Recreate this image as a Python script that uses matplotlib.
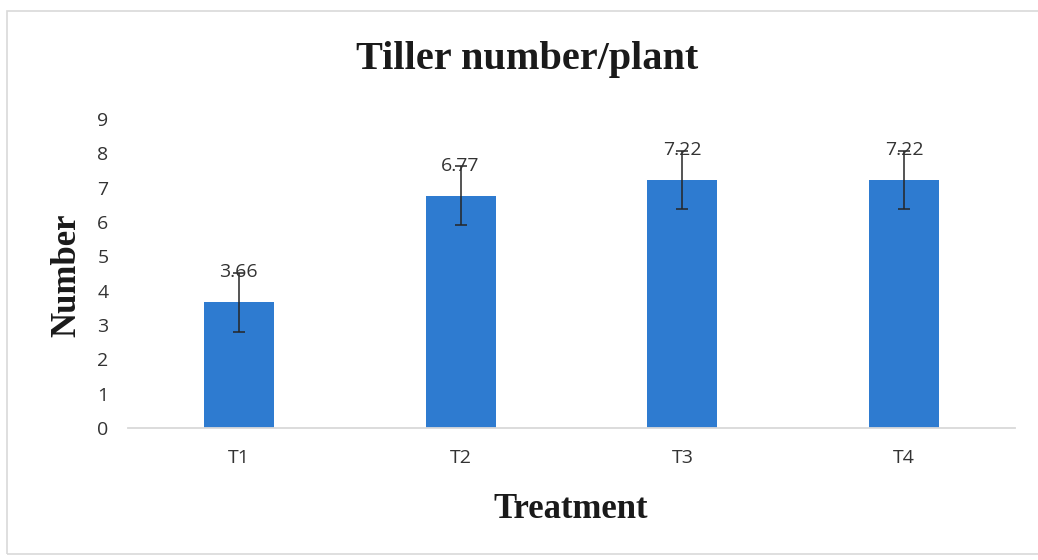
import matplotlib
matplotlib.use("Agg")
import matplotlib.pyplot as plt
from matplotlib.patches import Rectangle
from matplotlib import font_manager

categories = ["T1", "T2", "T3", "T4"]
values = [3.66, 6.77, 7.22, 7.22]
errors = [0.85, 0.87, 0.84, 0.84]
value_labels = ["3.66", "6.77", "7.22", "7.22"]
yticks = [0, 1, 2, 3, 4, 5, 6, 7, 8, 9]

names = {f.name for f in font_manager.fontManager.ttflist}
sans = "Liberation Sans Narrow" if "Liberation Sans Narrow" in names else "Open Sans"
sans_size = 16 if sans == "Liberation Sans Narrow" else 14

W, H = 1038, 560
fig = plt.figure(figsize=(W / 100, H / 100), dpi=100)
ax = fig.add_axes([128 / W, 1 - 428 / H, (1015 - 128) / W, (428 - 119) / H])

x = range(len(categories))
ax.bar(x, values, width=0.315, color="#2E7BD0", zorder=2)
ax.errorbar(x, values, yerr=errors, fmt="none", ecolor="#262626",
            elinewidth=1.1, capsize=4, capthick=1.1, zorder=3)
for xi, v, lab in zip(x, values, value_labels):
    ax.annotate(lab, (xi, v), xytext=(0, 21.5), textcoords="offset points",
                ha="center", va="center", fontsize=sans_size, color="#333333",
                family=sans, zorder=4)

ax.set_xlim(-0.5, 3.5)
ax.set_ylim(0, 9)
ax.set_yticks(yticks)
ax.set_xticks(list(x))
ax.set_xticklabels(categories)
for s in ["top", "right", "left"]:
    ax.spines[s].set_visible(False)
ax.spines["bottom"].set_color("#D9D9D9")
ax.spines["bottom"].set_linewidth(1.3)
ax.tick_params(axis="both", length=0, labelsize=sans_size, colors="#333333")
ax.tick_params(axis="y", pad=14)
ax.tick_params(axis="x", pad=15)
for lab in ax.get_xticklabels() + ax.get_yticklabels():
    lab.set_family(sans)

fig.text(527 / W, 1 - 60 / H, "Tiller number/plant", ha="center", va="center",
         fontsize=29, fontweight="bold", family="Liberation Serif", color="#1a1a1a")
fig.text(571 / W, 1 - 509 / H, "Treatment", ha="center", va="center",
         fontsize=25, fontweight="bold", family="Liberation Serif", color="#1a1a1a")
fig.text(67 / W, 1 - 275 / H, "Number", ha="center", va="center", rotation=90,
         fontsize=25, fontweight="bold", family="Liberation Serif", color="#1a1a1a")

fig.patches.append(Rectangle((7 / W, 1 - 554 / H), (1045 - 7) / W, (554 - 11) / H,
                             transform=fig.transFigure, fill=False,
                             edgecolor="#D9D9D9", linewidth=1.2))

fig.savefig("out.png", dpi=100)
